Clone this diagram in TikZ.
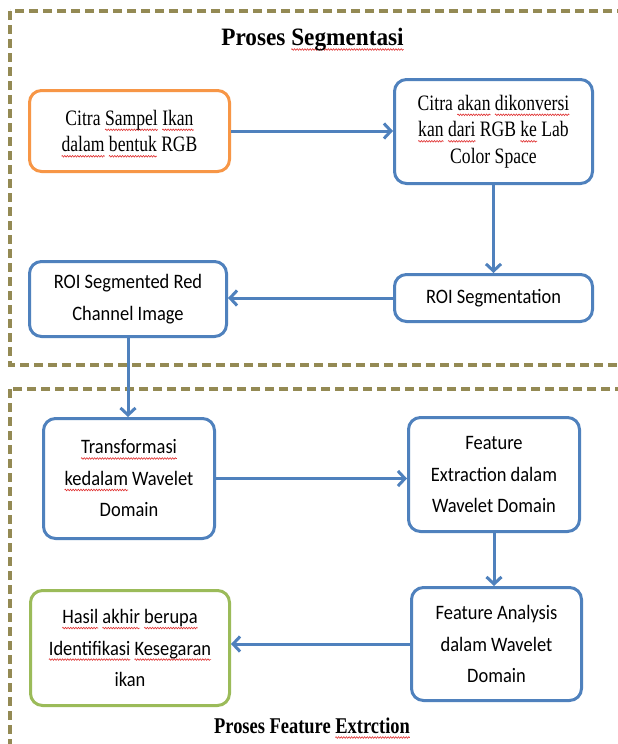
\documentclass[tikz,border=0pt]{standalone}
\usepackage{fontspec}
\usetikzlibrary{arrows.meta,decorations.pathmorphing}
\definecolor{boxblue}{HTML}{4F81BD}
\definecolor{boxorange}{HTML}{F79646}
\definecolor{boxgreen}{HTML}{9BBB59}
\definecolor{frameolive}{HTML}{948A54}
\definecolor{squigred}{HTML}{E03030}
\newfontfamily\serifbox[FakeStretch=0.8]{Liberation Serif}
\newfontfamily\sansbox[FakeStretch=0.9]{Carlito}
\newfontfamily\titleserif[FakeStretch=0.93]{Liberation Serif}
\newfontfamily\footserif[FakeStretch=0.82]{Liberation Serif}
\newsavebox\sqbox
\newcommand\sq[1]{\leavevmode\sbox\sqbox{#1}%
  \rlap{\tikz[overlay,baseline=0pt,sharp corners]\draw[squigred,sharp corners,line width=0.6pt,decorate,decoration={zigzag,amplitude=0.8pt,segment length=2.6pt}] (0pt,-4.5pt) -- (\wd\sqbox,-4.5pt);}%
  \usebox\sqbox}
\begin{document}
\begin{tikzpicture}[x=1pt,y=-1pt,
  box/.style={line width=3pt, rounded corners=12pt, fill=white, align=center, inner sep=0pt},
  serifnode/.style={box, font=\serifbox\fontsize{22}{26.5}\selectfont},
  sansnode/.style={box, font=\sansbox\fontsize{20.5}{31.5}\selectfont},
  arr/.style={draw=boxblue, line width=3pt, -{Straight Barb[length=7pt,width=15pt]}},
  frame/.style={draw=frameolive, line width=3.2pt, dash pattern=on 9pt off 5pt}
]
\useasboundingbox (0,0) rectangle (618,744);
\clip (0,0) rectangle (618,744);
\fill[white] (0,0) rectangle (618,744);
% frames
\draw[frame] (10,11) rectangle (650,365);
\draw[frame] (10,389) rectangle (650,770);
% titles
\node[anchor=base, inner sep=0pt, font=\titleserif\bfseries\fontsize{25}{30}\selectfont] (t1) at (312.5,45) {Proses \sq{Segmentasi}};
\node[anchor=base, inner sep=0pt, font=\footserif\bfseries\fontsize{22.5}{27}\selectfont] (t2) at (312,733) {Proses Feature \sq{Extrction}};
% boxes
\node[serifnode, draw=boxorange, minimum width=200pt, minimum height=81pt] (b1) at (129.5,131) {Citra \sq{Sampel} \sq{Ikan}\\\sq{dalam} \sq{bentuk} RGB};
\node[serifnode, draw=boxblue, minimum width=198pt, minimum height=104pt] (b2) at (493.5,131.5) {Citra \sq{akan} \sq{dikonversi}\\\sq{kan} \sq{dari} RGB \sq{ke} Lab\\Color Space};
\node[sansnode, draw=boxblue, minimum width=198pt, minimum height=47pt] (b3) at (493.5,298) {ROI Segmentation};
\node[sansnode, draw=boxblue, minimum width=197pt, minimum height=75pt] (b4) at (128,299) {ROI Segmented Red\\Channel Image};
\node[sansnode, draw=boxblue, minimum width=171pt, minimum height=120pt] (b5) at (129,478.5) {\sq{Transformasi}\\\sq{kedalam} Wavelet\\Domain};
\node[sansnode, draw=boxblue, minimum width=171pt, minimum height=114pt] (b6) at (494,474.5) {Feature\\Extraction dalam\\Wavelet Domain};
\node[sansnode, draw=boxblue, minimum width=170pt, minimum height=113pt] (b7) at (496.5,644) {Feature Analysis\\dalam Wavelet\\Domain};
\node[sansnode, draw=boxgreen, minimum width=199pt, minimum height=115pt] (b8) at (130,648) {\sq{Hasil} \sq{akhir} \sq{berupa}\\\sq{Identifikasi} \sq{Kesegaran}\\ikan};
% connectors
\draw[arr] (b1.east) -- (b1.east -| b2.west);
\draw[arr] (b2.south) -- (b2.south |- b3.north);
\draw[arr] (b3.west) -- (b3.west -| b4.east);
\draw[arr] (b4.south) -- (b4.south |- b5.north);
\draw[arr] (b5.east) -- (b5.east -| b6.west);
\draw[arr] (b6.south) -- (b6.south |- b7.north);
\draw[arr] (b7.west) -- (b7.west -| b8.east);
\end{tikzpicture}
\end{document}
